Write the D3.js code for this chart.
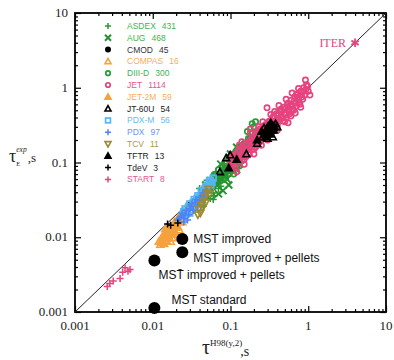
<!DOCTYPE html>
<html>
<head>
<meta charset="utf-8">
<script src="https://cdn.jsdelivr.net/npm/d3@7"></script>
<style>
  body { margin: 0; background: #fff; }
  svg { display: block; }
</style>
</head>
<body>
<div id="chart"></div>
<script>
// ---- data (tau_H98 [s], tau_exp [s]) ----
const asdex = [[0.030,0.026],[0.033,0.030],[0.035,0.024],[0.037,0.034],[0.040,0.031],[0.042,0.038],[0.044,0.029],[0.047,0.044],[0.050,0.040],[0.052,0.035],[0.055,0.050],[0.058,0.046],[0.060,0.039],[0.063,0.058],[0.066,0.052],[0.070,0.064],[0.072,0.055],[0.075,0.048],[0.078,0.070],[0.082,0.062],[0.085,0.080],[0.088,0.071],[0.092,0.066],[0.095,0.090],[0.10,0.082],[0.105,0.11],[0.11,0.095],[0.115,0.10],
  [0.036,0.029],[0.039,0.036],[0.041,0.027],[0.046,0.037],[0.049,0.047],[0.053,0.043],[0.057,0.054],[0.062,0.049],[0.068,0.060],[0.074,0.066],[0.079,0.058],[0.084,0.074],[0.090,0.078],[0.097,0.086],[0.062,0.036],[0.055,0.033],
  [0.045,0.026],[0.060,0.032],[0.070,0.045],[0.050,0.058],[0.065,0.075],[0.040,0.045]];
const aug = [[0.045,0.040],[0.050,0.046],[0.055,0.042],[0.060,0.055],[0.065,0.060],[0.068,0.050],[0.072,0.068],[0.076,0.060],[0.080,0.075],[0.085,0.065],[0.090,0.085],[0.095,0.075],[0.10,0.10],[0.105,0.088],[0.11,0.12],[0.115,0.10],[0.12,0.11],[0.125,0.13],[0.13,0.115],[0.14,0.14],[0.145,0.12],[0.15,0.155],[0.16,0.135],[0.17,0.17],[0.08,0.042],[0.07,0.038],[0.095,0.050],[0.12,0.080],
  [0.048,0.050],[0.058,0.048],[0.063,0.066],[0.070,0.058],[0.078,0.082],[0.083,0.070],[0.088,0.092],[0.092,0.080],[0.10,0.090],[0.108,0.105],[0.118,0.125],[0.128,0.12],[0.135,0.15],[0.15,0.14],[0.155,0.165],[0.165,0.15],[0.175,0.18],[0.185,0.17],
  [0.090,0.060],[0.11,0.075],[0.13,0.095],[0.10,0.13],[0.12,0.16],[0.075,0.095]];
const cmod = [[0.026,0.022],[0.030,0.027],[0.034,0.029],[0.038,0.033],[0.042,0.037]];
const compas = [[0.0125,0.0080],[0.013,0.0095],[0.014,0.0082],[0.015,0.0090],[0.0165,0.0098],[0.0175,0.011],[0.019,0.012],[0.021,0.014],[0.0135,0.0105],[0.012,0.0088],[0.0155,0.0115],[0.018,0.0098],[0.022,0.0125],[0.017,0.0088],[0.020,0.011],[0.024,0.016]];
const diiid = [[0.060,0.065],[0.070,0.080],[0.080,0.090],[0.090,0.10],[0.10,0.12],[0.11,0.13],[0.12,0.11],[0.13,0.16],[0.14,0.15],[0.15,0.18],[0.16,0.17],[0.17,0.21],[0.18,0.19],[0.19,0.25],[0.20,0.30],[0.21,0.35],[0.19,0.33],[0.165,0.26],[0.22,0.24],[0.15,0.13],[0.12,0.145],[0.10,0.095],[0.085,0.10],[0.11,0.070],[0.13,0.090],
  [0.065,0.070],[0.075,0.072],[0.095,0.11],[0.105,0.105],[0.125,0.135],[0.135,0.125],[0.145,0.165],[0.155,0.16],[0.175,0.20],[0.185,0.22],[0.20,0.20],[0.21,0.23]];
const jet = [[0.10,0.095],[0.105,0.12],[0.11,0.10],[0.115,0.085],[0.12,0.13],[0.125,0.11],[0.13,0.15],[0.135,0.12],[0.14,0.105],[0.145,0.16],[0.15,0.13],[0.155,0.14],[0.16,0.12],[0.165,0.18],[0.17,0.15],[0.175,0.13],[0.18,0.20],[0.185,0.16],[0.19,0.17],[0.20,0.15],[0.20,0.22],[0.21,0.19],[0.22,0.17],[0.22,0.25],[0.23,0.21],[0.24,0.19],[0.24,0.28],[0.25,0.23],[0.26,0.21],[0.27,0.30],[0.28,0.25],[0.29,0.23],[0.30,0.33],[0.31,0.27],[0.32,0.36],[0.33,0.29],[0.34,0.26],[0.35,0.40],[0.36,0.32],[0.38,0.35],[0.39,0.45],[0.40,0.31],[0.42,0.38],[0.43,0.50],[0.45,0.41],[0.47,0.36],[0.48,0.55],[0.50,0.45],[0.52,0.40],[0.54,0.60],[0.56,0.50],[0.58,0.45],[0.60,0.68],[0.62,0.56],[0.65,0.50],[0.67,0.75],[0.70,0.62],[0.72,0.82],[0.75,0.68],[0.78,0.60],[0.80,0.90],[0.83,0.75],[0.87,1.0],[0.90,0.80],[0.95,1.1],[1.0,0.90],[1.05,0.80],[0.92,1.27],[0.295,0.54],[0.55,0.34],[0.18,0.28],[0.13,0.17],[0.23,0.30],[0.37,0.48],[0.62,0.85],
  [0.105,0.09],[0.11,0.125],[0.12,0.10],[0.125,0.14],[0.14,0.13],[0.15,0.11],[0.155,0.17],[0.16,0.15],[0.17,0.13],[0.175,0.19],[0.19,0.15],[0.19,0.21],[0.20,0.18],[0.21,0.16],[0.21,0.24],[0.23,0.19],[0.23,0.26],[0.25,0.20],[0.25,0.27],[0.26,0.25],[0.27,0.22],[0.28,0.32],[0.29,0.27],[0.30,0.24],[0.31,0.35],[0.32,0.30],[0.34,0.36],[0.35,0.29],[0.36,0.42],[0.38,0.31],[0.40,0.43],[0.41,0.35],[0.44,0.47],[0.46,0.39],[0.50,0.52],[0.51,0.43],[0.55,0.56],[0.57,0.47],[0.60,0.60],[0.63,0.52],[0.66,0.66],[0.69,0.56],[0.73,0.74],[0.76,0.64],[0.80,0.80],[0.85,0.70],[0.88,0.90],[0.93,0.95],[0.98,1.05],[0.45,0.52],[0.55,0.62],[0.70,0.80],[0.40,0.38],[0.30,0.29],
  [0.12,0.075],[0.15,0.095],[0.20,0.13],[0.25,0.17],[0.30,0.20],[0.40,0.27],[0.50,0.35],[0.60,0.42],[0.14,0.19],[0.18,0.25],[0.26,0.35],[0.33,0.44],[0.42,0.58],[0.52,0.70],[0.75,0.98],[0.80,0.55],[0.68,0.46]];
const jet2m = [[0.013,0.0090],[0.014,0.011],[0.0135,0.0085],[0.015,0.0095],[0.016,0.012],[0.0145,0.013],[0.017,0.014],[0.018,0.013],[0.019,0.016],[0.020,0.015],[0.021,0.018],[0.022,0.017],[0.023,0.020],[0.024,0.019],[0.025,0.022],[0.016,0.0105],[0.018,0.0115],[0.015,0.0125],[0.020,0.0135],[0.026,0.024],
  [0.0128,0.0095],[0.0138,0.010],[0.0148,0.0108],[0.0158,0.0115],[0.0168,0.0128],[0.0178,0.0138],[0.0185,0.0145],[0.0195,0.0148],[0.0205,0.0165],[0.0215,0.016],[0.0225,0.019],[0.0235,0.0215]];
const jt60u = [[0.26,0.22],[0.28,0.25],[0.30,0.27],[0.32,0.24],[0.34,0.30],[0.36,0.27],[0.38,0.33],[0.30,0.21],[0.27,0.29],[0.35,0.22],[0.40,0.30],[0.33,0.34],[0.22,0.18],[0.099,0.126],[0.088,0.115],[0.073,0.075],[0.16,0.13]];
const pdxm = [[0.024,0.020],[0.026,0.024],[0.028,0.022],[0.030,0.028],[0.032,0.025],[0.034,0.032],[0.036,0.030],[0.038,0.036],[0.040,0.034],[0.042,0.042],[0.045,0.040],[0.048,0.048],[0.050,0.045],[0.053,0.055],[0.056,0.050],[0.060,0.062],[0.030,0.021],[0.035,0.026],[0.040,0.028],
  [0.025,0.022],[0.027,0.021],[0.029,0.026],[0.031,0.023],[0.033,0.029],[0.037,0.033],[0.039,0.031],[0.043,0.038],[0.046,0.044],[0.051,0.050],[0.055,0.058],[0.058,0.054]];
const pdx = [[0.021,0.017],[0.023,0.019],[0.025,0.018],[0.027,0.023],[0.029,0.020],[0.031,0.026],[0.033,0.023],[0.035,0.029],[0.038,0.027],[0.040,0.031],[0.043,0.036],[0.046,0.034],[0.050,0.041],[0.025,0.016],[0.028,0.017],
  [0.022,0.018],[0.024,0.021],[0.026,0.020],[0.030,0.024],[0.032,0.028],[0.036,0.032],[0.041,0.034],[0.044,0.039],[0.048,0.043]];
const tcv = [[0.038,0.020],[0.039,0.024],[0.041,0.021],[0.042,0.027],[0.044,0.025],[0.045,0.031],[0.047,0.035],[0.048,0.029],[0.050,0.040],[0.052,0.044],[0.054,0.038]];
const tftr = [[0.27,0.24],[0.29,0.27],[0.31,0.25],[0.33,0.28],[0.30,0.30],[0.35,0.31],[0.28,0.22],[0.32,0.32],[0.36,0.29],[0.25,0.26],[0.22,0.20],[0.12,0.11],[0.095,0.085],
  [0.28,0.26],[0.30,0.28],[0.32,0.26],[0.34,0.27],[0.31,0.29],[0.29,0.25],[0.33,0.30],[0.37,0.30]];
const tdev = [[0.0155,0.015],[0.017,0.0145],[0.021,0.0155]];
const start = [[0.0026,0.0022],[0.0028,0.0024],[0.0031,0.0026],[0.0038,0.0028],[0.0041,0.0034],[0.0044,0.0039],[0.0048,0.0035],[0.0051,0.0037]];
const mst = [[0.024,0.0095],[0.024,0.0063],[0.0105,0.0049],[0.0105,0.00113]];
const mstLabels = ["MST improved", "MST improved + pellets", "MST\u0304 improved + pellets", "MST standard"];
const iter = [[4.0, 4.0]];
const majorTicks = [0.001, 0.01, 0.1, 1, 10];
const tickLabels = ["0.001", "0.01", "0.1", "1", "10"];

const devices = [
  {name: "ASDEX",  n: 431,  data: asdex,  shape: "plus",  color: "#2a9a35", text: "#45b24f"},
  {name: "AUG",    n: 468,  data: aug,    shape: "x",     color: "#23932e", text: "#45b24f"},
  {name: "CMOD",   n: 45,   data: cmod,   shape: "dot",   color: "#000",    text: "#333"},
  {name: "COMPAS", n: 16,   data: compas, shape: "tri",   color: "#f6a23c", text: "#f7ad5c"},
  {name: "DIII-D", n: 300,  data: diiid,  shape: "ring",  color: "#2a9a35", text: "#45b24f"},
  {name: "JET",    n: 1114, data: jet,    shape: "ring",  color: "#e6447e", text: "#e8558a"},
  {name: "JET-2M", n: 59,   data: jet2m,  shape: "ftri",  color: "#f6a23c", text: "#f7ad5c"},
  {name: "JT-60U", n: 54,   data: jt60u,  shape: "tri",   color: "#000",    text: "#222"},
  {name: "PDX-M",  n: 56,   data: pdxm,   shape: "sq",    color: "#55b6f2", text: "#66bdf2"},
  {name: "PDX",    n: 97,   data: pdx,    shape: "plus",  color: "#4f82f2", text: "#6b93f2"},
  {name: "TCV",    n: 11,   data: tcv,    shape: "itri",  color: "#9c8a35", text: "#ac9748"},
  {name: "TFTR",   n: 13,   data: tftr,   shape: "ftri",  color: "#000",    text: "#222"},
  {name: "TdeV",   n: 3,    data: tdev,   shape: "plus",  color: "#000",    text: "#222"},
  {name: "START",  n: 8,    data: start,  shape: "plus",  color: "#e6447e", text: "#e8558a"}
];

// ---- layout ----
const W = 394, H = 360;
const svg = d3.select("#chart").append("svg").attr("width", W).attr("height", H);

const x = d3.scaleLog().domain([0.001, 10]).range([75, 386]);
const y = d3.scaleLog().domain([0.001, 10]).range([312, 13]);

// minor ticks 2..9 of each decade
let minorTicks = [];
majorTicks.slice(0, -1).forEach(function(d) {
  for (let k = 2; k <= 9; k++) minorTicks.push(d * k);
});

function drawAxis(axisFn, scale, tr, len, vals) {
  const g = svg.append("g")
    .attr("transform", tr)
    .call(axisFn(scale).tickValues(vals).tickSize(len).tickFormat(""));
  g.select(".domain").remove();
  g.selectAll("line").attr("stroke", "#000").attr("stroke-width", 1.2);
}
// ticks pointing inward on all four sides
drawAxis(d3.axisBottom, x, "translate(0,312)", -6, majorTicks);
drawAxis(d3.axisBottom, x, "translate(0,312)", -3, minorTicks);
drawAxis(d3.axisTop, x, "translate(0,13)", -6, majorTicks);
drawAxis(d3.axisTop, x, "translate(0,13)", -3, minorTicks);
drawAxis(d3.axisLeft, y, "translate(75,0)", -6, majorTicks);
drawAxis(d3.axisLeft, y, "translate(75,0)", -3, minorTicks);
drawAxis(d3.axisRight, y, "translate(386,0)", -6, majorTicks);
drawAxis(d3.axisRight, y, "translate(386,0)", -3, minorTicks);

svg.append("rect")
  .attr("x", 75).attr("y", 13).attr("width", 311).attr("height", 299)
  .attr("fill", "none").attr("stroke", "#000").attr("stroke-width", 1.8);

// tick labels
svg.append("g").selectAll("text").data(majorTicks).enter().append("text")
  .attr("x", d => x(d)).attr("y", 330)
  .attr("text-anchor", "middle")
  .style("font", "13px 'Liberation Serif', serif").attr("fill", "#222")
  .text((d, i) => tickLabels[i]);
svg.append("g").selectAll("text").data(majorTicks).enter().append("text")
  .attr("x", 68).attr("y", d => y(d) + 4)
  .attr("text-anchor", "end")
  .style("font", "13px 'Liberation Serif', serif").attr("fill", "#222")
  .text((d, i) => tickLabels[i]);

// axis titles
const yt = svg.append("text").attr("x", 9).attr("y", 162)
  .style("font-family", "'Liberation Serif', serif").attr("fill", "#222");
yt.append("tspan").style("font-size", "18px").text("\u03C4");
yt.append("tspan").style("font-size", "6.5px").attr("dy", 4).text("E");
yt.append("tspan").style("font-size", "7.5px").style("font-style", "italic").attr("dx", -4).attr("dy", -14).text("exp");
yt.append("tspan").style("font-size", "13px").attr("dx", 1).attr("dy", 10).text(",s");

const xt = svg.append("text").attr("x", 202).attr("y", 354)
  .style("font-family", "'Liberation Serif', serif").attr("fill", "#222");
xt.append("tspan").style("font-size", "20px").text("\u03C4");
xt.append("tspan").style("font-size", "9px").attr("dy", -8).text("H98(y,2)");
xt.append("tspan").style("font-size", "14px").attr("dy", 10).attr("dx", -2).text(",s");

// diagonal tau_exp = tau_H98
svg.append("line")
  .attr("x1", x(0.001)).attr("y1", y(0.001))
  .attr("x2", x(10)).attr("y2", y(10))
  .attr("stroke", "#222").attr("stroke-width", 1);

// ---- markers ----
function marker(g, shape, color, s) {
  const h = s / 2;
  if (shape === "plus") {
    g.append("path").attr("d", `M${-h},0H${h}M0,${-h}V${h}`)
      .attr("stroke", color).attr("stroke-width", 1.5).attr("fill", "none");
  } else if (shape === "x") {
    g.append("path").attr("d", `M${-h},${-h}L${h},${h}M${-h},${h}L${h},${-h}`)
      .attr("stroke", color).attr("stroke-width", 2).attr("fill", "none");
  } else if (shape === "dot") {
    g.append("circle").attr("r", h).attr("fill", color);
  } else if (shape === "ring") {
    g.append("circle").attr("r", h * 0.75).attr("fill", "none").attr("stroke", color).attr("stroke-width", 1.7);
  } else if (shape === "sq") {
    g.append("rect").attr("x", -h * 0.8).attr("y", -h * 0.8).attr("width", h * 1.6).attr("height", h * 1.6)
      .attr("fill", "none").attr("stroke", color).attr("stroke-width", 1.7);
  } else if (shape === "tri" || shape === "ftri") {
    g.append("path").attr("d", `M0,${-h}L${h},${h * 0.8}L${-h},${h * 0.8}Z`)
      .attr("fill", shape === "ftri" ? color : "none").attr("stroke", color).attr("stroke-width", 1.6);
  } else if (shape === "itri") {
    g.append("path").attr("d", `M0,${h}L${h},${-h * 0.8}L${-h},${-h * 0.8}Z`)
      .attr("fill", "none").attr("stroke", color).attr("stroke-width", 1.6);
  }
}

const plot = svg.append("g");
devices.forEach(function(dev) {
  plot.append("g").selectAll("g").data(dev.data).enter().append("g")
    .attr("transform", d => `translate(${x(d[0])},${y(d[1])})`)
    .each(function() { marker(d3.select(this), dev.shape, dev.color, 7); });
});

// ITER point
svg.append("g").selectAll("path").data(iter).enter().append("path")
  .attr("transform", d => `translate(${x(d[0])},${y(d[1])})`)
  .attr("d", d3.symbol().type(d3.symbolAsterisk).size(50))
  .attr("stroke", "#e6447e").attr("stroke-width", 1.8).attr("fill", "#e6447e");
svg.append("text").attr("x", x(iter[0][0]) - 9).attr("y", y(iter[0][1]) + 4)
  .attr("text-anchor", "end")
  .style("font", "12px 'Liberation Serif', serif").attr("fill", "#e6447e")
  .text("ITER");

// MST points
svg.append("g").selectAll("circle").data(mst).enter().append("circle")
  .attr("cx", d => x(d[0])).attr("cy", d => y(d[1])).attr("r", 6).attr("fill", "#000");
const mstOff = [[11, 4], [11, 10], [4, 19], [17, -4]];
svg.append("g").selectAll("text").data(mst).enter().append("text")
  .attr("x", (d, i) => x(d[0]) + mstOff[i][0])
  .attr("y", (d, i) => y(d[1]) + mstOff[i][1])
  .style("font", "12px 'Liberation Sans', Arial, sans-serif").attr("fill", "#111")
  .text((d, i) => mstLabels[i]);

// ---- legend ----
const leg = svg.append("g");
devices.forEach(function(dev, i) {
  const yy = 26 + i * 11.8;
  marker(leg.append("g").attr("transform", `translate(108,${yy})`), dev.shape, dev.color, 6);
  const t = leg.append("text").attr("x", 127).attr("y", yy + 3)
    .style("font", "8.5px 'Liberation Sans', Arial, sans-serif").attr("fill", dev.text);
  t.append("tspan").text(dev.name);
  t.append("tspan").attr("dx", 6).text(dev.n);
});
</script>
</body>
</html>
